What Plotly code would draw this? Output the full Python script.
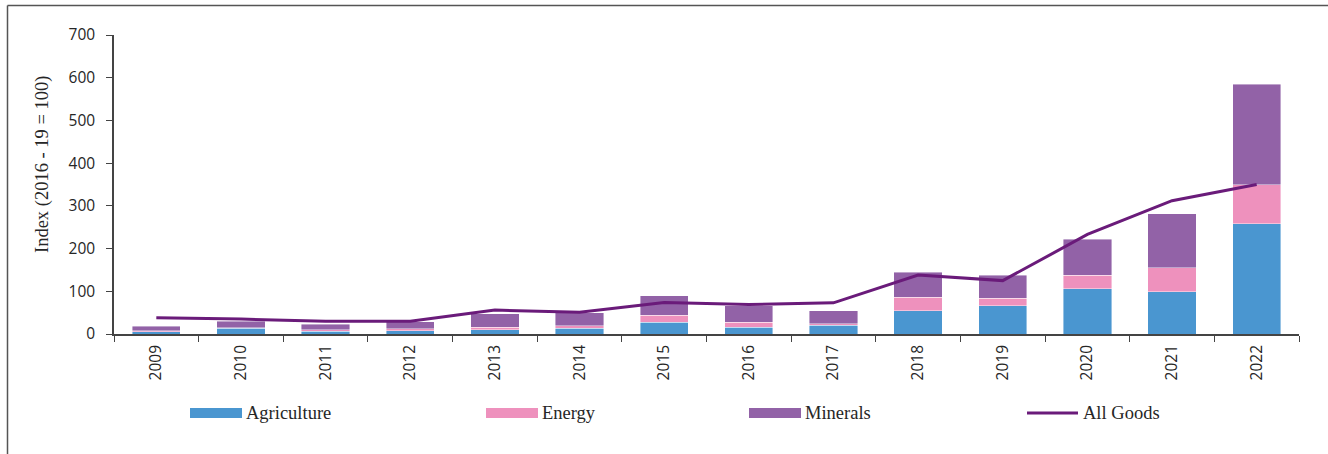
import plotly.graph_objects as go

years = ["2009", "2010", "2011", "2012", "2013", "2014", "2015",
         "2016", "2017", "2018", "2019", "2020", "2021", "2022"]
agriculture = [5, 13, 6, 8, 10, 14, 27, 16, 20, 55, 66, 106, 99, 258]
energy = [3, 2, 4, 4, 6, 5, 17, 12, 4, 31, 18, 31, 56, 91]
minerals = [10, 15, 13, 17, 31, 31, 45, 38, 30, 58, 53, 85, 126, 236]
all_goods = [38, 35, 30, 30, 56, 51, 74, 69, 73, 138, 125, 233, 312, 350]

series_names = ["Agriculture", "Energy", "Minerals", "All Goods"]
colors = ["#4A96D0", "#EE91BD", "#9262A7", "#6A1B7A"]

SERIF = "Liberation Serif"
SANS = "Open Sans"
TXT = "#262626"

fig = go.Figure()
for name, vals, col in zip(series_names[:3], [agriculture, energy, minerals], colors[:3]):
    fig.add_trace(go.Bar(x=years, y=vals, name=name, marker_color=col,
                         marker_line=dict(color="rgba(255,255,255,0.7)", width=0.6),
                         showlegend=False))
fig.add_trace(go.Scatter(x=years, y=all_goods, name=series_names[3], mode="lines",
                         line=dict(color=colors[3], width=3), showlegend=False))

# plot area geometry in pixels
L, R, T, B = 114, 1299, 35, 334
W, H = R - L, B - T


def px(x):
    return (x - L) / W


def py(y):
    return (B - y) / H


shapes = []
annotations = []
# frame lines (top and left)
frame = dict(type="line", xref="paper", yref="paper", line=dict(color="#555555", width=1.5))
shapes.append(dict(frame, x0=px(7.5), x1=px(1330), y0=py(5.5), y1=py(5.5)))
shapes.append(dict(frame, x0=px(7.5), x1=px(7.5), y0=py(5.5), y1=py(456)))

# manual legend
leg_x = [190, 486, 749, 1027]
for i, (name, col) in enumerate(zip(series_names, colors)):
    x0 = leg_x[i]
    if i < 3:
        shapes.append(dict(type="rect", xref="paper", yref="paper",
                           x0=px(x0), x1=px(x0 + 52), y0=py(408), y1=py(418),
                           fillcolor=col, line=dict(width=0)))
    else:
        shapes.append(dict(type="line", xref="paper", yref="paper",
                           x0=px(x0), x1=px(x0 + 51), y0=py(413), y1=py(413),
                           line=dict(color=col, width=3)))
    annotations.append(dict(text=name, xref="paper", yref="paper",
                            x=px(x0 + 54), y=py(413), xanchor="left", yanchor="middle",
                            showarrow=False, font=dict(family=SERIF, size=18.5, color=TXT)))

# y-axis title
annotations.append(dict(text="Index (2016 - 19 = 100)", xref="paper", yref="paper",
                        x=px(42), y=py(165), textangle=-90, xanchor="center", yanchor="middle",
                        showarrow=False, font=dict(family=SERIF, size=18.5, color=TXT)))

fig.update_layout(
    width=1328, height=454,
    margin=dict(l=L, r=1328 - R, t=T, b=454 - B),
    barmode="stack", bargap=0.43,
    plot_bgcolor="white", paper_bgcolor="white",
    font=dict(family=SANS, size=15.5, color=TXT),
    shapes=shapes, annotations=annotations,
    xaxis=dict(showline=True, linecolor="#444444", linewidth=1.5,
               ticks="outside", tickson="boundaries", ticklen=6, tickcolor="#444444",
               tickangle=-90, tickfont=dict(family=SANS, size=15.5, color=TXT),
               ticklabelstandoff=3,
               showgrid=False, zeroline=False),
    yaxis=dict(range=[0, 700], dtick=100, showline=True, linecolor="#444444", linewidth=1.5,
               ticks="outside", ticklen=6, tickcolor="#444444",
               tickfont=dict(family=SANS, size=15.5, color=TXT),
               ticklabelstandoff=8,
               showgrid=False, zeroline=False),
)

fig.write_html("out.html", config={"displayModeBar": False},
               post_script="document.body.style.margin='0';")
